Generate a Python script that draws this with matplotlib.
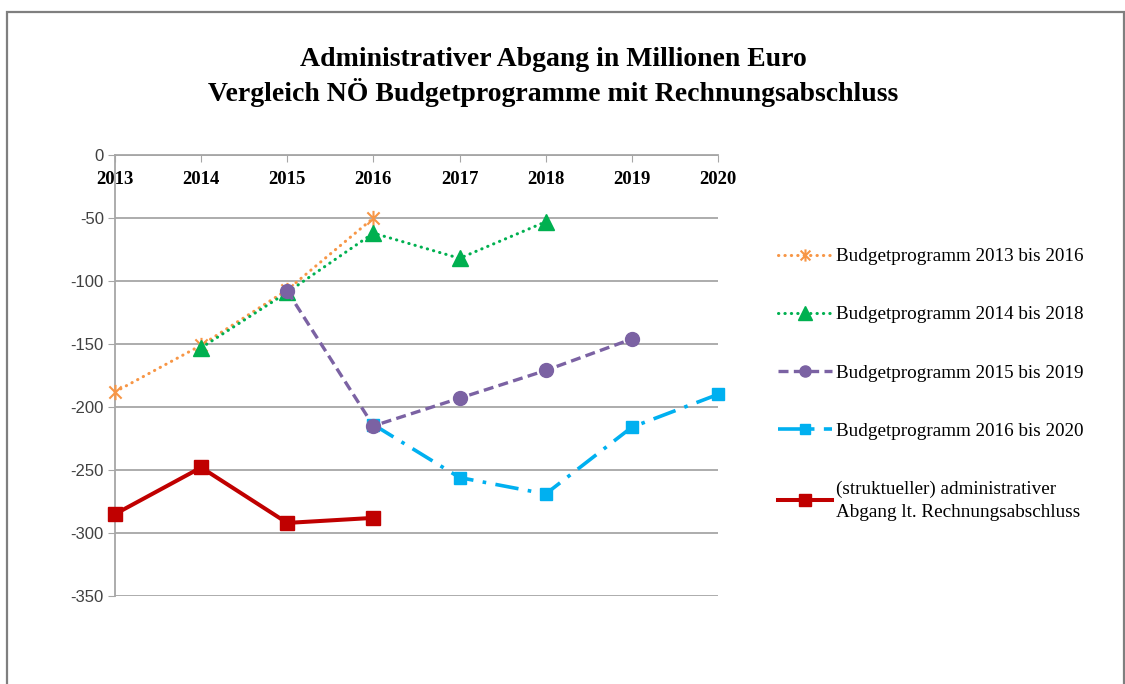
import numpy as np
import matplotlib
matplotlib.use('Agg')
import matplotlib.pyplot as plt
from matplotlib.path import Path
from matplotlib.patches import Rectangle

years = [2013, 2014, 2015, 2016, 2017, 2018, 2019, 2020]
nan = np.nan

bp_2013_2016 = [-188, -151, -107, -50, nan, nan, nan, nan]
bp_2014_2018 = [nan, -153, -109, -62, -82, -53, nan, nan]
bp_2015_2019 = [nan, nan, -108, -215, -193, -171, -146, nan]
bp_2016_2020 = [nan, nan, nan, -214, -256, -269, -216, -190]
rechnungsabschluss = [-285, -248, -292, -288, nan, nan, nan, nan]

labels = ['Budgetprogramm 2013 bis 2016',
          'Budgetprogramm 2014 bis 2018',
          'Budgetprogramm 2015 bis 2019',
          'Budgetprogramm 2016 bis 2020',
          '(struktueller) administrativer\nAbgang lt. Rechnungsabschluss']

y_ticks = [0, -50, -100, -150, -200, -250, -300, -350]

title = ('Administrativer Abgang in Millionen Euro\n'
         'Vergleich NÖ Budgetprogramme mit Rechnungsabschluss')

SERIF = ['Liberation Serif', 'DejaVu Serif']
NARROW = ['Liberation Sans Narrow', 'Liberation Sans', 'DejaVu Sans']
GRID = '#A6A6A6'

# asterisk marker like excel's "star"
star = Path([(-1, -1), (1, 1), (-1, 1), (1, -1), (0, -1.25), (0, 1.25)],
            [Path.MOVETO, Path.LINETO, Path.MOVETO, Path.LINETO, Path.MOVETO, Path.LINETO])

fig = plt.figure(figsize=(11.25, 6.84), dpi=100)
ax = fig.add_axes([115/1125, 1 - 596/684, (718 - 115)/1125, (596 - 155)/684])

ax.plot(years, bp_2013_2016, color='#F79646', lw=2.2, ls=(0, (0.1, 2.0)),
        dash_capstyle='round', marker=star, ms=11, mew=1.5, label=labels[0],
        zorder=3, clip_on=False)
ax.plot(years, bp_2014_2018, color='#00B050', lw=2.2, ls=(0, (0.1, 2.0)),
        dash_capstyle='round', marker='^', ms=12, label=labels[1],
        zorder=4, clip_on=False)
ax.plot(years, bp_2015_2019, color='#7B62A3', lw=2.4, ls=(0, (3.0, 1.6)),
        marker='o', ms=10, label=labels[2], zorder=5, clip_on=False)
ax.plot(years, bp_2016_2020, color='#00B0F0', lw=2.6, ls=(0, (6.5, 2.6, 1.0, 2.6)),
        marker='s', ms=9, label=labels[3], zorder=4, clip_on=False)
ax.plot(years, rechnungsabschluss, color='#C00000', lw=2.9,
        marker='s', ms=10.5, label=labels[4], zorder=6, clip_on=False)

ax.set_xlim(2013, 2020)
ax.set_ylim(-350, 0)
ax.set_xticks(years)
ax.set_yticks(y_ticks)
ax.set_yticklabels([str(v) for v in y_ticks], family=NARROW, fontsize=12, color='#404040')
ax.set_xticklabels([str(y) for y in years], family=SERIF, fontsize=13.5, fontweight='bold')

ax.xaxis.set_ticks_position('top')
ax.tick_params(axis='x', direction='in', length=5, color=GRID, pad=-24)
ax.tick_params(axis='y', direction='out', length=5, color=GRID, pad=3)

ax.yaxis.grid(True, color=GRID, lw=1.3)
ax.set_axisbelow(True)
for side in ['right', 'bottom']:
    ax.spines[side].set_visible(False)
ax.spines['left'].set_color(GRID)
ax.spines['left'].set_linewidth(1.3)
ax.spines['top'].set_color(GRID)
ax.spines['top'].set_linewidth(1.3)

fig.text(553/1125, 1 - 77/684, title, ha='center', va='center',
         family=SERIF, fontweight='bold', fontsize=20, linespacing=1.3)

leg = fig.legend(loc='upper left', bbox_to_anchor=(778/1125, 1 - 248/684),
                 frameon=False, prop={'family': SERIF, 'size': 13.8},
                 handlelength=2.8, handletextpad=0.25, labelspacing=2.12,
                 borderpad=0, borderaxespad=0, numpoints=1, markerscale=0.8)
leg.get_texts()[4].set_linespacing(1.5)

fig.add_artist(Rectangle((7/1125, -0.1), 1116.5/1125, (684 - 12)/684 + 0.1,
                         transform=fig.transFigure, fill=False,
                         edgecolor='#7F7F7F', lw=1.6))

fig.savefig('out.png', dpi=100)
